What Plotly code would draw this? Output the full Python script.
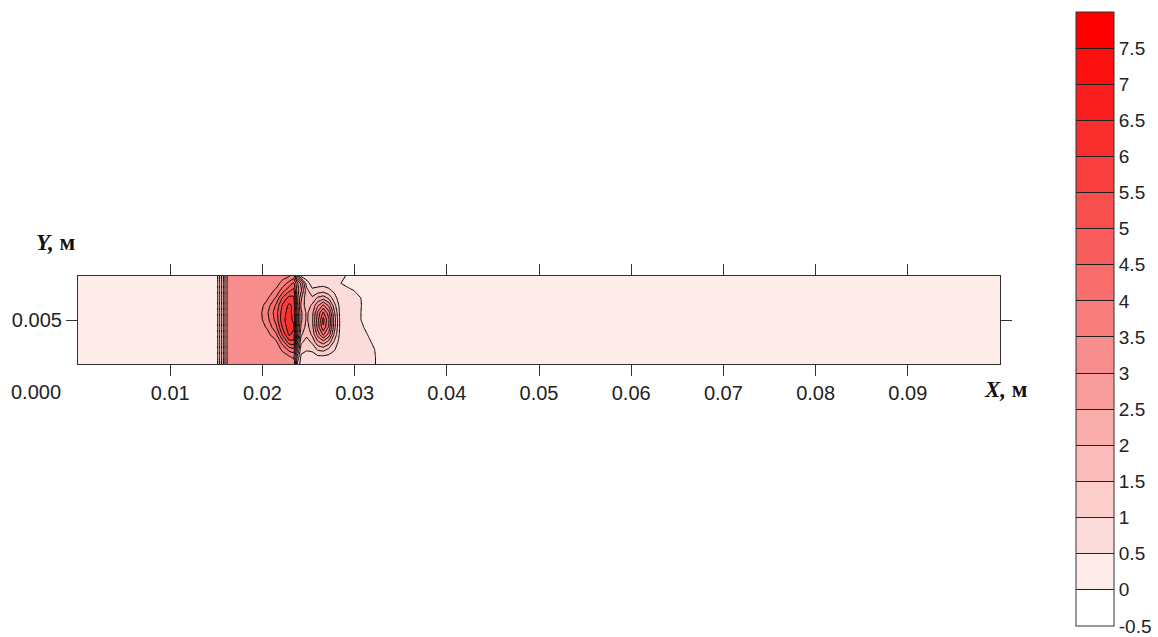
import plotly.graph_objects as go

# ---------------- data ----------------
x_vals = [0.0, 0.005, 0.010, 0.0150, 0.0152, 0.0154, 0.0157, 0.0159, 0.0161, 0.0163,
          0.0185, 0.0195, 0.0205, 0.0215, 0.0222, 0.0229, 0.0234, 0.0238, 0.0242, 0.0248,
          0.0254, 0.0260, 0.0266, 0.0272, 0.0278, 0.0284, 0.0292, 0.0300, 0.0308, 0.0316,
          0.0324, 0.0332, 0.040, 0.060, 0.080, 0.100]

y_vals = [0.0020, 0.0025, 0.0030, 0.0035, 0.0040, 0.0045, 0.0050,
          0.0055, 0.0060, 0.0065, 0.0070, 0.0075, 0.0080]

# one column of values (bottom -> top) for every x position
z_columns = [
    [0.25, 0.25, 0.25, 0.25, 0.25, 0.25, 0.25, 0.25, 0.25, 0.25, 0.25, 0.25, 0.25],
    [0.25, 0.25, 0.25, 0.25, 0.25, 0.25, 0.25, 0.25, 0.25, 0.25, 0.25, 0.25, 0.25],
    [0.25, 0.25, 0.25, 0.25, 0.25, 0.25, 0.25, 0.25, 0.25, 0.25, 0.25, 0.25, 0.25],
    [0.25, 0.25, 0.25, 0.25, 0.25, 0.25, 0.25, 0.25, 0.25, 0.25, 0.25, 0.25, 0.25],
    [0.60, 0.60, 0.60, 0.60, 0.60, 0.60, 0.60, 0.60, 0.60, 0.60, 0.60, 0.60, 0.60],
    [1.20, 1.20, 1.20, 1.20, 1.20, 1.20, 1.20, 1.20, 1.20, 1.20, 1.20, 1.20, 1.20],
    [1.80, 1.80, 1.80, 1.80, 1.80, 1.80, 1.80, 1.80, 1.80, 1.80, 1.80, 1.80, 1.80],
    [2.40, 2.40, 2.40, 2.40, 2.40, 2.40, 2.40, 2.40, 2.40, 2.40, 2.40, 2.40, 2.40],
    [2.90, 2.90, 2.90, 2.90, 2.90, 2.90, 2.90, 2.90, 2.90, 2.90, 2.90, 2.90, 2.90],
    [3.20, 3.20, 3.20, 3.20, 3.20, 3.20, 3.20, 3.20, 3.20, 3.20, 3.20, 3.20, 3.20],
    [3.20, 3.20, 3.20, 3.20, 3.20, 3.20, 3.20, 3.20, 3.20, 3.20, 3.20, 3.20, 3.20],
    [3.20, 3.20, 3.20, 3.20, 3.20, 3.20, 3.20, 3.20, 3.20, 3.20, 3.20, 3.20, 3.20],
    [3.20, 3.20, 3.20, 3.20, 3.30, 3.55, 3.80, 3.90, 3.70, 3.40, 3.25, 3.20, 3.20],
    [3.20, 3.20, 3.25, 3.40, 3.90, 4.40, 4.70, 4.80, 4.60, 4.10, 3.60, 3.30, 3.20],
    [3.20, 3.30, 3.60, 4.30, 5.10, 5.60, 5.90, 5.80, 5.60, 5.10, 4.30, 3.70, 3.30],
    [3.20, 3.45, 4.20, 5.30, 6.10, 6.30, 6.20, 6.20, 6.10, 5.70, 4.90, 4.20, 3.45],
    [3.30, 3.60, 4.40, 5.40, 5.80, 6.10, 5.90, 5.80, 5.90, 5.60, 5.20, 4.60, 3.70],
    [1.40, 1.95, 2.60, 3.10, 3.60, 3.80, 3.90, 3.80, 3.70, 3.60, 3.70, 3.60, 2.10],
    [0.75, 0.90, 1.20, 1.60, 2.10, 2.40, 2.60, 2.60, 2.40, 2.60, 3.10, 2.90, 0.90],
    [0.75, 0.80, 1.05, 1.30, 1.60, 1.80, 1.90, 1.90, 1.70, 1.60, 1.70, 1.20, 0.75],
    [0.75, 0.80, 1.10, 1.60, 2.10, 2.30, 2.40, 2.30, 2.10, 1.60, 1.10, 0.80, 0.75],
    [0.75, 0.90, 1.60, 2.40, 3.20, 3.70, 3.80, 3.60, 2.90, 2.10, 1.20, 0.80, 0.75],
    [0.75, 0.90, 1.70, 2.80, 4.10, 4.90, 5.20, 4.60, 3.60, 2.30, 1.30, 0.80, 0.75],
    [0.75, 0.85, 1.40, 2.30, 3.30, 3.90, 4.10, 3.70, 2.90, 1.90, 1.10, 0.80, 0.75],
    [0.75, 0.80, 1.05, 1.40, 1.90, 2.20, 2.30, 2.10, 1.70, 1.20, 0.90, 0.75, 0.75],
    [0.75, 0.75, 0.75, 0.80, 0.90, 0.95, 0.95, 0.90, 0.85, 0.75, 0.75, 0.54, 0.75],
    [0.75, 0.75, 0.75, 0.75, 0.75, 0.75, 0.75, 0.75, 0.75, 0.75, 0.75, 0.25, 0.42],
    [0.75, 0.75, 0.75, 0.75, 0.75, 0.75, 0.75, 0.75, 0.75, 0.75, 0.48, 0.25, 0.25],
    [0.75, 0.75, 0.75, 0.75, 0.75, 0.58, 0.46, 0.46, 0.48, 0.46, 0.25, 0.25, 0.25],
    [0.75, 0.75, 0.75, 0.58, 0.42, 0.25, 0.25, 0.25, 0.25, 0.25, 0.25, 0.25, 0.25],
    [0.45, 0.45, 0.40, 0.25, 0.25, 0.25, 0.25, 0.25, 0.25, 0.25, 0.25, 0.25, 0.25],
    [0.25, 0.25, 0.25, 0.25, 0.25, 0.25, 0.25, 0.25, 0.25, 0.25, 0.25, 0.25, 0.25],
    [0.25, 0.25, 0.25, 0.25, 0.25, 0.25, 0.25, 0.25, 0.25, 0.25, 0.25, 0.25, 0.25],
    [0.25, 0.25, 0.25, 0.25, 0.25, 0.25, 0.25, 0.25, 0.25, 0.25, 0.25, 0.25, 0.25],
    [0.25, 0.25, 0.25, 0.25, 0.25, 0.25, 0.25, 0.25, 0.25, 0.25, 0.25, 0.25, 0.25],
    [0.25, 0.25, 0.25, 0.25, 0.25, 0.25, 0.25, 0.25, 0.25, 0.25, 0.25, 0.25, 0.25],
]

x_tick_vals = [0.01, 0.02, 0.03, 0.04, 0.05, 0.06, 0.07, 0.08, 0.09]
x_tick_text = ["0.01", "0.02", "0.03", "0.04", "0.05", "0.06", "0.07", "0.08", "0.09"]
y_tick_vals = [0.005]
y_tick_text = ["0.005"]

level_min, level_max, level_step = -0.5, 8.0, 0.5
cb_tick_vals = [-0.5, 0, 0.5, 1, 1.5, 2, 2.5, 3, 3.5, 4, 4.5, 5, 5.5, 6, 6.5, 7, 7.5]
cb_tick_text = ["-0.5", "0", "0.5", "1", "1.5", "2", "2.5", "3", "3.5", "4", "4.5",
                "5", "5.5", "6", "6.5", "7", "7.5"]

band_colors = [
    "rgb(255,255,255)", "rgb(253,236,233)", "rgb(252,220,218)", "rgb(251,205,203)",
    "rgb(250,189,187)", "rgb(249,173,171)", "rgb(248,157,156)", "rgb(247,142,141)",
    "rgb(247,126,125)", "rgb(247,110,109)", "rgb(247,94,93)", "rgb(247,79,78)",
    "rgb(248,63,62)", "rgb(249,47,46)", "rgb(250,31,30)", "rgb(252,16,15)",
    "rgb(255,0,0)",
]

# ---------------- build ----------------
z = [list(row) for row in zip(*z_columns)]
n = len(band_colors) - 1
# contour fill colours: band centres map to i/n
contour_scale = [[i / n, c] for i, c in enumerate(band_colors)]
# stepped scale for the legend bar spanning [-0.5, 8]
nb = len(band_colors)
bar_scale = []
for i, c in enumerate(band_colors):
    bar_scale.append([i / nb, c])
    bar_scale.append([(i + 1) / nb, c])

W, H = 1158, 637
L, R, T, B = 78, 1000, 276, 364
PW, PH = R - L, B - T
CB_TOP, CB_BOT, CB_LEFT = 12, 626, 1076
CB_THICK = 38
EPS = 0.002  # keeps the end label of the bar inside its range

fig = go.Figure()
fig.add_trace(go.Contour(
    x=x_vals, y=y_vals, z=z,
    autocontour=False,
    contours=dict(start=level_min + level_step, end=level_max - level_step,
                  size=level_step, coloring="fill", showlines=True),
    line=dict(color="black", width=1, smoothing=0),
    colorscale=contour_scale,
    showscale=False,
    hoverinfo="skip",
))

# colour legend bar (no visible marks)
fig.add_trace(go.Scatter(
    x=[None], y=[None], mode="markers",
    marker=dict(
        color=[0], cmin=level_min - EPS, cmax=level_max, colorscale=bar_scale,
        showscale=True,
        colorbar=dict(
            x=(CB_LEFT - L) / PW, xanchor="left",
            y=(B - (CB_TOP + CB_BOT) / 2) / PH, yanchor="middle",
            lenmode="pixels", len=CB_BOT - CB_TOP,
            thickness=CB_THICK, thicknessmode="pixels",
            xpad=0, ypad=0,
            outlinewidth=1, outlinecolor="#333",
            tickmode="array", tickvals=cb_tick_vals, ticktext=cb_tick_text,
            ticks="inside", ticklen=CB_THICK, tickcolor="#222", tickwidth=1,
            ticklabelposition="outside", ticklabeloverflow="allow",
            tickfont=dict(family="Liberation Sans, Arial", size=19, color="#222"),
        ),
    ),
    hoverinfo="skip", showlegend=False,
))

fig.update_layout(
    width=W, height=H,
    margin=dict(l=L, r=W - R, t=T, b=H - B, pad=0, autoexpand=False),
    paper_bgcolor="white", plot_bgcolor="white",
    showlegend=False,
    xaxis=dict(
        range=[0, 0.1], showgrid=False, zeroline=False,
        tickmode="array", tickvals=x_tick_vals, ticktext=x_tick_text,
        ticks="outside", ticklen=11, tickcolor="#333", tickwidth=1,
        showline=True, linecolor="#333", linewidth=1.2, mirror="ticks",
        tickfont=dict(family="Liberation Sans, Arial", size=20, color="#222"),
    ),
    yaxis=dict(
        range=[0.002, 0.008], showgrid=False, zeroline=False,
        tickmode="array", tickvals=y_tick_vals, ticktext=y_tick_text,
        ticks="outside", ticklen=11, tickcolor="#333", tickwidth=1,
        showline=True, linecolor="#333", linewidth=1.2, mirror="ticks",
        tickfont=dict(family="Liberation Sans, Arial", size=20, color="#222"),
    ),
    annotations=[
        dict(text="0.000", xref="paper", yref="paper",
             x=(63 - L) / PW, y=(B - 392) / PH,
             xanchor="right", yanchor="middle", showarrow=False,
             font=dict(family="Liberation Sans, Arial", size=20, color="#222")),
        dict(text="<b><i>Y,</i> м</b>", xref="paper", yref="paper",
             x=(34 - L) / PW, y=(B - 242) / PH,
             xanchor="left", yanchor="middle", showarrow=False,
             font=dict(family="Liberation Serif, Times New Roman", size=23, color="#111")),
        dict(text="<b><i>X,</i> м</b>", xref="paper", yref="paper",
             x=(982 - L) / PW, y=(B - 389) / PH,
             xanchor="left", yanchor="middle", showarrow=False,
             font=dict(family="Liberation Serif, Times New Roman", size=23, color="#111")),
    ],
)

fig.write_html("out.html")
